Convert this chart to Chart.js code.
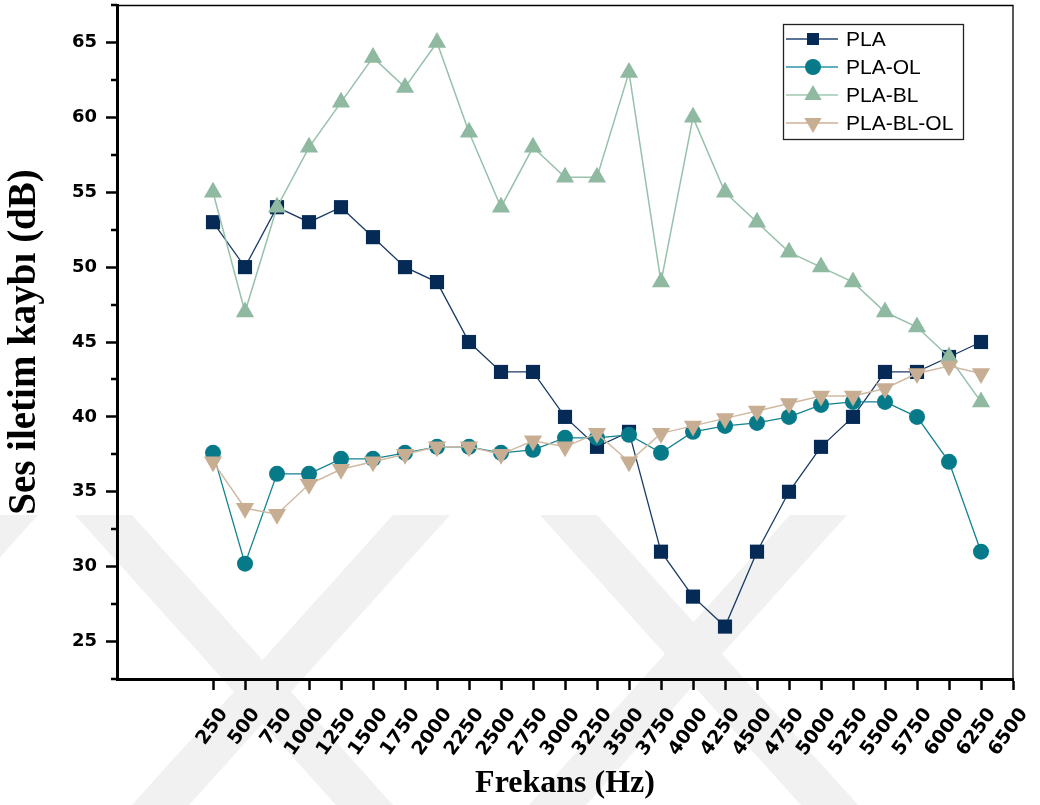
<!DOCTYPE html>
<html>
<head>
<meta charset="utf-8">
<script src="https://cdn.jsdelivr.net/npm/chart.js@4.4.1/dist/chart.umd.min.js"></script>
<style>
  html, body { margin: 0; padding: 0; background: #ffffff; }
  canvas { display: block; }
</style>
</head>
<body>
<canvas id="chart" width="1040" height="805"></canvas>
<script>
// Measurement frequencies (Hz)
const frequencies = [250, 500, 750, 1000, 1250, 1500, 1750, 2000, 2250, 2500, 2750, 3000, 3250,
                     3500, 3750, 4000, 4250, 4500, 4750, 5000, 5250, 5500, 5750, 6000, 6250];
// Labelled ticks on the frequency axis
const xTickValues = [250, 500, 750, 1000, 1250, 1500, 1750, 2000, 2250, 2500, 2750, 3000, 3250,
                     3500, 3750, 4000, 4250, 4500, 4750, 5000, 5250, 5500, 5750, 6000, 6250, 6500];
// Labelled ticks on the transmission-loss axis (dB)
const yTickValues = [25, 30, 35, 40, 45, 50, 55, 60, 65];

// Sound transmission loss (dB) per sample
const plaValues = [53, 50, 54, 53, 54, 52, 50, 49, 45, 43, 43, 40, 38,
                   39, 31, 28, 26, 31, 35, 38, 40, 43, 43, 44, 45];
const plaOlValues = [37.6, 30.2, 36.2, 36.2, 37.2, 37.2, 37.6, 38, 38, 37.6, 37.8, 38.6, 38.6,
                     38.8, 37.6, 39, 39.4, 39.6, 40, 40.8, 41, 41, 40, 37, 31];
const plaBlValues = [55, 47, 54, 58, 61, 64, 62, 65, 59, 54, 58, 56, 56,
                     63, 49, 60, 55, 53, 51, 50, 49, 47, 46, 44, 41];
const plaBlOlValues = [37, 33.9, 33.5, 35.5, 36.5, 37, 37.5, 38, 38, 37.5, 38.4, 38, 38.9,
                       37, 38.9, 39.4, 39.9, 40.4, 40.9, 41.4, 41.4, 41.9, 42.9, 43.4, 42.9];

const seriesNames = ['PLA', 'PLA-OL', 'PLA-BL', 'PLA-BL-OL'];

const X_MIN = -500, X_MAX = 6500;
const Y_MIN = 22.5, Y_MAX = 67.5;

const toPoints = vals => frequencies.map((f, i) => ({ x: f, y: vals[i] }));

// Faint chevron watermark behind the plot
const watermark = {
  id: 'watermark',
  beforeDraw(chart) {
    const ctx = chart.ctx;
    ctx.save();
    ctx.fillStyle = '#ffffff';
    ctx.fillRect(0, 0, chart.width, chart.height);
    const top = 515, bottom = chart.height;
    const shift = 0.9 * (bottom - top);
    ctx.beginPath();
    ctx.rect(0, top, chart.width, bottom - top);
    ctx.clip();
    ctx.fillStyle = '#f1f1f1';
    const down = [[75, 132], [540, 597]];           // "\" bands
    const up = [[-20, 38], [393, 450], [790, 847]]; // "/" bands
    down.forEach(([a, b]) => {
      ctx.beginPath();
      ctx.moveTo(a, top); ctx.lineTo(b, top);
      ctx.lineTo(b + shift, bottom); ctx.lineTo(a + shift, bottom);
      ctx.closePath(); ctx.fill();
    });
    up.forEach(([a, b]) => {
      ctx.beginPath();
      ctx.moveTo(a, top); ctx.lineTo(b, top);
      ctx.lineTo(b - shift, bottom); ctx.lineTo(a - shift, bottom);
      ctx.closePath(); ctx.fill();
    });
    ctx.restore();
  }
};

// Thin top/right frame and short minor ticks on the value axis
const frame = {
  id: 'frame',
  afterDraw(chart) {
    const { ctx, chartArea: a } = chart;
    const ys = chart.scales.y;
    ctx.save();
    ctx.strokeStyle = '#000';
    ctx.lineWidth = 1.3;
    ctx.beginPath();
    ctx.moveTo(a.left, a.top + 0.5);
    ctx.lineTo(a.right, a.top + 0.5);
    ctx.lineTo(a.right, a.bottom);
    ctx.stroke();
    ctx.lineWidth = 2.5;
    ctx.beginPath();
    for (let v = Y_MIN; v <= Y_MAX + 1e-9; v += 5) {
      const py = Math.round(ys.getPixelForValue(v));
      ctx.moveTo(a.left - 6, py);
      ctx.lineTo(a.left, py);
    }
    ctx.stroke();
    ctx.restore();
  }
};

// Boxed legend with line + marker samples
const legendBox = {
  id: 'legendBox',
  afterDraw(chart) {
    const ctx = chart.ctx;
    const left = 783, top = 24, width = 180, height = 115;
    ctx.save();
    ctx.fillStyle = '#ffffff';
    ctx.fillRect(left, top, width, height);
    ctx.strokeStyle = '#222';
    ctx.lineWidth = 1.3;
    ctx.strokeRect(left + 0.5, top + 0.5, width, height);
    ctx.font = '21px "Liberation Sans", Arial, sans-serif';
    ctx.textBaseline = 'middle';
    chart.data.datasets.forEach((ds, i) => {
      const cy = top + 15 + i * 28;
      ctx.strokeStyle = ds.legendLine;
      ctx.lineWidth = 2;
      ctx.beginPath();
      ctx.moveTo(left + 3, cy);
      ctx.lineTo(left + 55, cy);
      ctx.stroke();
      ctx.fillStyle = ds.pointBackgroundColor;
      ctx.strokeStyle = ds.pointBackgroundColor;
      Chart.helpers.drawPoint(ctx, {
        pointStyle: ds.pointStyle,
        rotation: ds.pointRotation || 0,
        radius: ds.legendRadius,
        borderWidth: 0
      }, left + 30, cy);
      ctx.fillStyle = '#000';
      ctx.fillText(ds.label, left + 63, cy + 1);
    });
    ctx.restore();
  }
};

new Chart(document.getElementById('chart'), {
  type: 'line',
  data: {
    datasets: [
      {
        label: seriesNames[0], data: toPoints(plaValues), order: 4,
        borderColor: '#1a3a66', borderWidth: 1.3, legendLine: '#5b7396',
        pointStyle: 'rect', pointRadius: 10, legendRadius: 8.5,
        pointBackgroundColor: '#062a56', pointBorderColor: '#062a56', pointBorderWidth: 0
      },
      {
        label: seriesNames[1], data: toPoints(plaOlValues), order: 3,
        borderColor: '#138290', borderWidth: 1.3, legendLine: '#5fb0ba',
        pointStyle: 'circle', pointRadius: 8, legendRadius: 8,
        pointBackgroundColor: '#077a89', pointBorderColor: '#077a89', pointBorderWidth: 0
      },
      {
        label: seriesNames[2], data: toPoints(plaBlValues), order: 2,
        borderColor: '#98c1ab', borderWidth: 1.5, legendLine: '#b7d6c4',
        pointStyle: 'triangle', pointRadius: 10.5, legendRadius: 10,
        pointBackgroundColor: '#8fb9a1', pointBorderColor: '#8fb9a1', pointBorderWidth: 0
      },
      {
        label: seriesNames[3], data: toPoints(plaBlOlValues), order: 1,
        borderColor: '#d0b9a2', borderWidth: 1.5, legendLine: '#dcc4b0',
        pointStyle: 'triangle', pointRotation: 180, pointRadius: 10.5, legendRadius: 10,
        pointBackgroundColor: '#c7ae93', pointBorderColor: '#c7ae93', pointBorderWidth: 0
      }
    ]
  },
  options: {
    responsive: false,
    animation: false,
    devicePixelRatio: 1,
    layout: { autoPadding: false, padding: { left: 0, top: 5, right: 27, bottom: 0 } },
    elements: { line: { tension: 0 } },
    plugins: { legend: { display: false }, tooltip: { enabled: false } },
    scales: {
      x: {
        type: 'linear', min: X_MIN, max: X_MAX,
        afterBuildTicks: s => { s.ticks = xTickValues.map(v => ({ value: v })); },
        afterFit: s => { s.height = 126; s.paddingLeft = 0; s.paddingRight = 0; },
        border: { display: true, color: '#000', width: 3 },
        grid: { drawOnChartArea: false, drawTicks: true, tickLength: 11, tickWidth: 2.5, tickColor: '#000' },
        ticks: {
          autoSkip: false, minRotation: 54, maxRotation: 54, padding: 14, labelOffset: 11,
          color: '#000', font: { family: '"DejaVu Sans", sans-serif', weight: 'bold', size: 19 },
          callback: v => String(v)
        },
        title: {
          display: true, text: 'Frekans (Hz)', color: '#000',
          font: { family: '"Liberation Serif", "Times New Roman", serif', weight: 'bold', size: 32 },
          padding: { top: 0, bottom: 2 }
        }
      },
      y: {
        type: 'linear', min: Y_MIN, max: Y_MAX,
        afterBuildTicks: s => { s.ticks = yTickValues.map(v => ({ value: v })); },
        afterFit: s => { s.width = 117; s.paddingTop = 0; s.paddingBottom = 0; },
        border: { display: true, color: '#000', width: 3 },
        grid: { drawOnChartArea: false, drawTicks: true, tickLength: 11, tickWidth: 2.5, tickColor: '#000' },
        ticks: {
          padding: 9, color: '#000',
          font: { family: '"DejaVu Sans", sans-serif', weight: 'bold', size: 18 },
          callback: v => String(v)
        },
        title: {
          display: true, text: 'Ses iletim kaybı (dB)', color: '#000',
          font: { family: '"Liberation Serif", "Times New Roman", serif', weight: 'bold', size: 39 },
          padding: { top: 2, bottom: 0 }
        }
      }
    }
  },
  plugins: [watermark, frame, legendBox]
});
</script>
</body>
</html>
